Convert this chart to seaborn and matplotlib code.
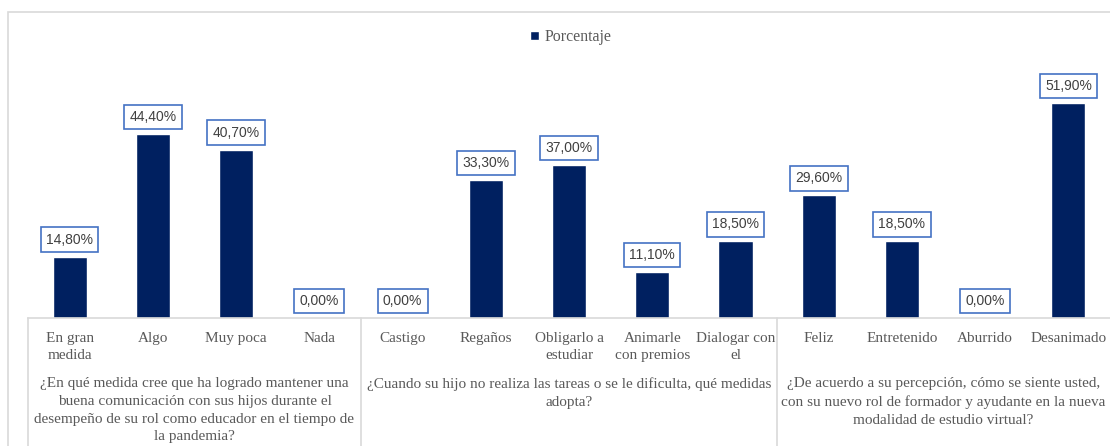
import numpy as np
import pandas as pd
import matplotlib
matplotlib.use("Agg")
import matplotlib.pyplot as plt
import matplotlib.transforms as mtransforms
from matplotlib.lines import Line2D
from matplotlib.patches import Rectangle
import seaborn as sns

categorias = ["En gran\nmedida", "Algo", "Muy poca", "Nada",
              "Castigo", "Regaños", "Obligarlo a\nestudiar", "Animarle\ncon premios", "Dialogar con\nel",
              "Feliz", "Entretenido", "Aburrido", "Desanimado"]
porcentaje = [14.8, 44.4, 40.7, 0.0,
              0.0, 33.3, 37.0, 11.1, 18.5,
              29.6, 18.5, 0.0, 51.9]
preguntas = ["¿En qué medida cree que ha logrado mantener una\nbuena comunicación con sus hijos durante el\ndesempeño de su rol como educador en el tiempo de\nla pandemia?",
             "¿Cuando su hijo no realiza las tareas o se le dificulta, qué medidas\nadopta?",
             "¿De acuerdo a su percepción, cómo se siente usted,\ncon su nuevo rol de formador y ayudante en la nueva\nmodalidad de estudio virtual?"]
n_por_pregunta = [4, 5, 4]

df = pd.DataFrame({"categoria": categorias, "porcentaje": porcentaje})

sns.set_style("white")
plt.rcParams['font.family'] = ['Liberation Serif', 'DejaVu Serif']

W, H = 1110, 446
fig = plt.figure(figsize=(W / 100, H / 100), dpi=100)
ax = fig.add_axes([28 / W, 1 - 318 / H, 1 - 28 / W, (318 - 69.6) / H])

sns.barplot(data=df, x="categoria", y="porcentaje", color="#002060", width=0.41,
            saturation=1, label="Porcentaje", ax=ax)
ax.set_ylim(0, 60)
ax.set_xlim(-0.5, len(categorias) - 0.5)
ax.set_xlabel("")
ax.set_ylabel("")
ax.set_yticks([])
for s in ["top", "left", "right"]:
    ax.spines[s].set_visible(False)
ax.spines["bottom"].set_color("#D9D9D9")
ax.spines["bottom"].set_linewidth(1.2)
ax.tick_params(axis="x", length=0, pad=10, labelsize=11, labelcolor="#595959")
for t in ax.get_xticklabels():
    t.set_linespacing(1.42)

# etiquetas de datos
for i, v in enumerate(porcentaje):
    txt = "{:.2f}%".format(v).replace(".", ",")
    ax.annotate(txt, (i, v), xytext=(0, 17), textcoords="offset pixels",
                ha="center", va="center", fontsize=10, color="#404040",
                family=["Liberation Sans", "DejaVu Sans"], annotation_clip=False,
                bbox=dict(boxstyle="square,pad=0.38", fc="white", ec="#4472C4", lw=1.2))

# separadores y preguntas
blend = mtransforms.blended_transform_factory(ax.transData, fig.transFigure)
bordes = np.cumsum([0] + n_por_pregunta) - 0.5
for b in bordes[:-1]:
    fig.add_artist(Line2D([b, b], [0, 1 - 318 / H], transform=blend, color="#D9D9D9", lw=1.2))
for k, q in enumerate(preguntas):
    xc = (bordes[k] + bordes[k + 1]) / 2
    fig.text(xc, 1 - 377 / H, q, transform=blend, ha="center", va="top",
             fontsize=11, color="#595959", linespacing=1.48)

leg = ax.legend(loc="center", bbox_to_anchor=(571 / W, 1 - 37 / H), bbox_transform=fig.transFigure,
                frameon=False, handlelength=0.55, handleheight=0.55, handletextpad=0.35,
                prop={"size": 11.4})
for t in leg.get_texts():
    t.set_color("#595959")

fig.add_artist(Rectangle((8 / W, -0.02), 1.0, 1 - 12 / H + 0.02, transform=fig.transFigure,
                         fill=False, ec="#D9D9D9", lw=1.2))

fig.savefig("out.png", dpi=100)
